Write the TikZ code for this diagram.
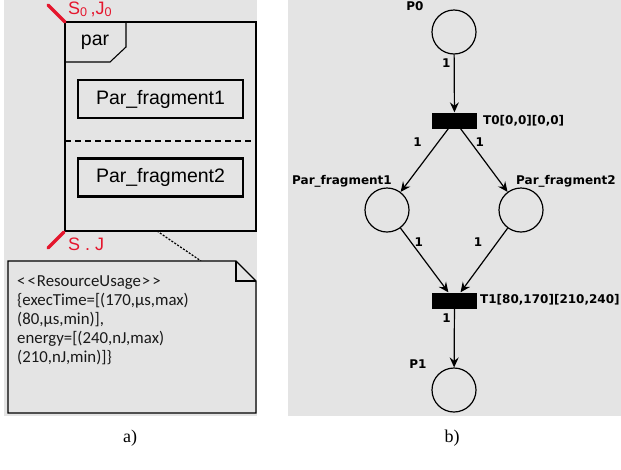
\documentclass[tikz,border=0pt]{standalone}
\usepackage{fontspec}
\setmainfont{Liberation Sans}
\newfontfamily\notefont{Carlito}
\newfontfamily\netfont{DejaVu Sans}
\newfontfamily\capfont{Liberation Serif}
\usetikzlibrary{arrows.meta}
\definecolor{panelgray}{RGB}{228,228,228}
\definecolor{marker}{RGB}{228,22,45}

\begin{document}
\begin{tikzpicture}[x=1pt, y=-1pt,
  place/.style={circle, draw, line width=1.2pt, minimum size=44pt, inner sep=0pt},
  trans/.style={rectangle, fill=black, minimum width=45pt, minimum height=16pt, inner sep=0pt},
  arc/.style={line width=1.2pt, -{Stealth[length=10pt,width=9pt,inset=3.5pt]}},
  netlbl/.style={font=\netfont\bfseries\fontsize{12}{14}\selectfont, inner sep=0pt},
  frag/.style={draw, line width=2.4pt, minimum width=165pt, minimum height=38pt, inner sep=0pt},
  marktick/.style={marker, line width=3.5pt, line cap=round},
  redlbl/.style={text=marker, anchor=base west, inner sep=0pt, font=\fontsize{18}{20}\selectfont}]
  \useasboundingbox (0,0) rectangle (621,469);
  % panel backgrounds
  \fill[panelgray] (4,0) rectangle (257,416);
  \fill[panelgray] (288,0) rectangle (621,416);

  % a) par combined fragment
  \draw[line width=1.3pt] (65,22) rectangle (256,231);
  \draw[line width=1.1pt] (65,62) -- (110,62) -- (126,47) -- (126,22);
  \node[font=\fontsize{19.5}{22}\selectfont] (partag) at (95,42) {par};
  \node[frag, font=\fontsize{19.5}{22}\selectfont] (frag1) at (160.5,99) {Par\_fragment1};
  \node[frag, font=\fontsize{19.5}{22}\selectfont] (frag2) at (160.5,177.5) {Par\_fragment2};
  \draw[line width=1.3pt, dash pattern=on 6pt off 4pt] (65,141) -- (256,141);
  % start / stop markers
  \draw[marktick] (48,5) -- (65,22);
  \node[redlbl] (start) at (68,14) {S\textsubscript{0}\,,J\textsubscript{0}};
  \draw[marktick] (48,248) -- (64,232);
  \node[redlbl] (stop) at (68,250) {S . J};
  % note with resource usage
  \coordinate (fragfoot) at (157,231);
  \coordinate (notetop) at (201,261);
  \draw[line width=1.2pt, dash pattern=on 2pt off 1.5pt] (fragfoot) -- (notetop);
  \draw[line width=1.3pt, fill=panelgray] (8,261) -- (236,261) -- (256,281) -- (256,413) -- (8,413) -- cycle;
  \draw[line width=1.1pt] (236,261) -- (236,281) -- (256,281);
  \node[anchor=north west, align=left, inner sep=0pt, text=black!90,
    font=\notefont\fontsize{16.8}{18.8}\selectfont] (usage) at (17,276)
    {<\kern2pt<\kern1pt ResourceUsage\kern1pt>\kern2pt>\\\{execTime=[(170,μs,max)\\(80,μs,min)],\\energy=[(240,nJ,max)\\(210,nJ,min)]\}};

  % b) Petri net
  \node[place] (p0) at (454,32) {};
  \node[trans] (t0) at (454.5,120.5) {};
  \node[place] (pf1) at (387,210) {};
  \node[place] (pf2) at (521,210) {};
  \node[trans] (t1) at (454.5,300.5) {};
  \node[place] (p1) at (454,390) {};
  \node[netlbl] (p0lbl) at (415,6) {P0};
  \node[netlbl, anchor=west] (t0lbl) at (483,121) {T0[0,0][0,0]};
  \node[netlbl] (pf1lbl) at (342,181) {Par\_fragment1};
  \node[netlbl] (pf2lbl) at (566,181) {Par\_fragment2};
  \node[netlbl, anchor=west] (t1lbl) at (480,300) {T1[80,170][210,240]};
  \node[netlbl] (p1lbl) at (418,364) {P1};
  \draw[arc] (p0) -- node[netlbl, pos=0.15, left=3pt] (w0) {1} (t0);
  \draw[arc] (t0) -- node[netlbl, pos=0.21, left=16pt] (w1) {1} (pf1);
  \draw[arc] (t0) -- node[netlbl, pos=0.21, right=4.5pt] (w2) {1} (pf2);
  \draw[arc] (pf1) -- node[netlbl, pos=0.22, right=3pt] (w3) {1} (t1);
  \draw[arc] (pf2) -- node[netlbl, pos=0.22, left=14.5pt] (w4) {1} (t1);
  \draw[arc] (t1) -- node[netlbl, pos=0.16, left=3pt] (w5) {1} (p1);

  % captions
  \node[font=\capfont\fontsize{18}{20}\selectfont] (capa) at (130,438) {a)};
  \node[font=\capfont\fontsize{18}{20}\selectfont] (capb) at (452,438) {b)};
\end{tikzpicture}
\end{document}
